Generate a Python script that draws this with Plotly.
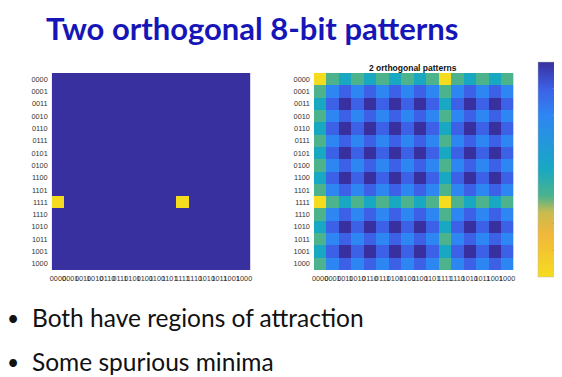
import plotly.graph_objects as go

# ---- data ----
labels = ["0000", "0001", "0011", "0010", "0110", "0111", "0101", "0100",
          "1100", "1101", "1111", "1110", "1010", "1011", "1001", "1000"]

# stored patterns (row half, column half) shown in the left panel
stored_patterns = [("1111", "0000"), ("1111", "1111")]

# energy landscape of the two orthogonal patterns (right panel)
energy = [
    [-32, -20, -16, -20, -16, -20, -16, -20, -16, -20, -32, -20, -16, -20, -16, -20],
    [-20, -8, -4, -8, -4, -8, -4, -8, -4, -8, -20, -8, -4, -8, -4, -8],
    [-16, -4, 0, -4, 0, -4, 0, -4, 0, -4, -16, -4, 0, -4, 0, -4],
    [-20, -8, -4, -8, -4, -8, -4, -8, -4, -8, -20, -8, -4, -8, -4, -8],
    [-16, -4, 0, -4, 0, -4, 0, -4, 0, -4, -16, -4, 0, -4, 0, -4],
    [-20, -8, -4, -8, -4, -8, -4, -8, -4, -8, -20, -8, -4, -8, -4, -8],
    [-16, -4, 0, -4, 0, -4, 0, -4, 0, -4, -16, -4, 0, -4, 0, -4],
    [-20, -8, -4, -8, -4, -8, -4, -8, -4, -8, -20, -8, -4, -8, -4, -8],
    [-16, -4, 0, -4, 0, -4, 0, -4, 0, -4, -16, -4, 0, -4, 0, -4],
    [-20, -8, -4, -8, -4, -8, -4, -8, -4, -8, -20, -8, -4, -8, -4, -8],
    [-32, -20, -16, -20, -16, -20, -16, -20, -16, -20, -32, -20, -16, -20, -16, -20],
    [-20, -8, -4, -8, -4, -8, -4, -8, -4, -8, -20, -8, -4, -8, -4, -8],
    [-16, -4, 0, -4, 0, -4, 0, -4, 0, -4, -16, -4, 0, -4, 0, -4],
    [-20, -8, -4, -8, -4, -8, -4, -8, -4, -8, -20, -8, -4, -8, -4, -8],
    [-16, -4, 0, -4, 0, -4, 0, -4, 0, -4, -16, -4, 0, -4, 0, -4],
    [-20, -8, -4, -8, -4, -8, -4, -8, -4, -8, -20, -8, -4, -8, -4, -8],
]

slide_title = "Two orthogonal 8-bit patterns"
panel_title = "2 orthogonal patterns"
bullets = ["Both have regions of attraction", "Some spurious minima"]

# ---- build left matrix from stored patterns ----
stored = [[0] * len(labels) for _ in labels]
for r, c in stored_patterns:
    stored[labels.index(r)][labels.index(c)] = 1

W, H = 562, 377
OX, OY = 8, 8  # page body margin offset


def px(x):
    return (x - OX) / W


def py(y):
    return 1 - (y - OY) / H


dark = "#38309E"
yellow = "#F6DC1E"
energy_scale = [
    [0.0, yellow],
    [0.2, "#F1B73C"],
    [0.3, "#C9BC4E"],
    [0.375, "#4CB38C"],
    [0.5, "#19A8C2"],
    [0.75, "#2E86F3"],
    [0.875, "#3C61E6"],
    [1.0, dark],
]

fig = go.Figure()
fig.add_trace(go.Heatmap(
    z=stored, x=labels, y=labels, xaxis="x", yaxis="y",
    colorscale=[[0, dark], [1, yellow]], showscale=False, zmin=0, zmax=1,
))
fig.add_trace(go.Heatmap(
    z=energy, x=labels, y=labels, xaxis="x2", yaxis="y2",
    colorscale=energy_scale, zmin=-32, zmax=0,
    colorbar=dict(
        x=px(540), xanchor="left", xpad=0, ypad=0,
        y=py(169.5), yanchor="middle", len=215 / H, lenmode="fraction",
        thickness=17, thicknessmode="pixels",
        outlinewidth=0.5, outlinecolor="#bbbbbb",
        ticks="inside", ticklen=2, tickcolor="#999999", dtick=4,
        showticklabels=False,
    ),
))

tickfont = dict(family="Liberation Sans, Arial, sans-serif", size=7.3, color="#333333")
axcommon = dict(type="category", showgrid=False, zeroline=False, ticks="",
                tickfont=tickfont, tickangle=0, showline=False)

fig.update_layout(
    width=W, height=H,
    margin=dict(l=0, r=0, t=0, b=0),
    paper_bgcolor="white", plot_bgcolor="white",
    xaxis=dict(domain=[px(50), px(250)], anchor="y", ticklabelstandoff=3, **axcommon),
    yaxis=dict(domain=[py(270), py(73)], anchor="x", autorange="reversed",
               ticklabelstandoff=3, **axcommon),
    xaxis2=dict(domain=[px(314), px(515)], anchor="y2", ticklabelstandoff=3, **axcommon),
    yaxis2=dict(domain=[py(270), py(73)], anchor="x2", autorange="reversed",
                ticklabelstandoff=3, **axcommon),
    showlegend=False,
)

ann = [
    dict(text="<b>" + slide_title + "</b>", x=px(252), y=py(28), xref="paper", yref="paper",
         xanchor="center", yanchor="middle", showarrow=False, borderpad=0,
         font=dict(family="Lato, sans-serif", size=31, color="#1616B8")),
    dict(text="<b>" + panel_title + "</b>", x=px(413.5), y=py(67.5), xref="paper", yref="paper",
         xanchor="center", yanchor="middle", showarrow=False,
         font=dict(family="Liberation Sans, Arial, sans-serif", size=8.5, color="#111111")),
]
bullet_y = [317, 361]
for txt, yy in zip(bullets, bullet_y):
    ann.append(dict(text="•", x=px(11.5), y=py(yy), xref="paper", yref="paper",
                    xanchor="center", yanchor="middle", showarrow=False,
                    font=dict(family="Lato, sans-serif", size=21, color="#111111")))
    ann.append(dict(text=txt, x=px(28), y=py(yy), xref="paper", yref="paper",
                    xanchor="left", yanchor="middle", showarrow=False,
                    font=dict(family="Lato, sans-serif", size=24.5, color="#111111")))
fig.update_layout(annotations=ann)

fig.write_html("out.html")
